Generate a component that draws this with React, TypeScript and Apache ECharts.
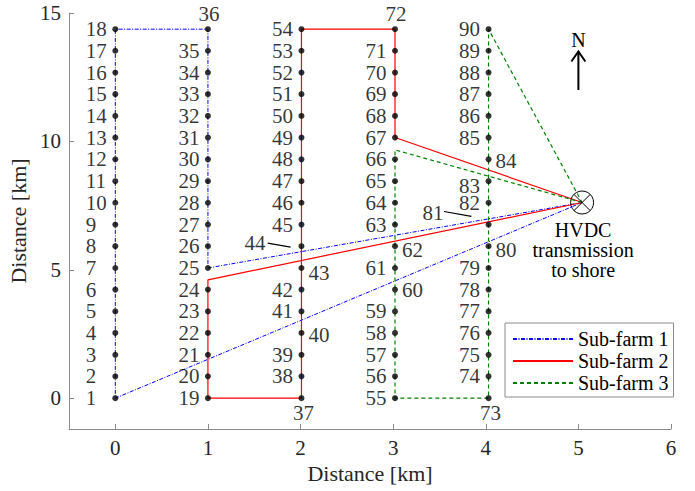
import React, { useEffect, useRef } from "react";
import * as echarts from "echarts";

// ---- data ----
const colX = [0, 1.0, 2.01, 3.02, 4.03];
const rowY = [0, 0.85, 1.69, 2.54, 3.38, 4.23, 5.07, 5.92, 6.76, 7.61, 8.45, 9.3, 10.15, 10.99, 11.84, 12.68, 13.53, 14.37];
const substation = [5.04, 7.62];
const waypoints: Record<string, number[]> = { W2: [1.0, 4.61], W3: [3.02, 9.67] };
const seriesNames = ["Sub-farm 1", "Sub-farm 2", "Sub-farm 3"];
const route1: (number | string)[] = ["S", 25, 36, 18, 1, "S"];
const route2: (number | string)[] = ["S", 67, 72, 54, 37, 19, "W2", "S"];
const route3: (number | string)[] = ["S", "W3", 55, 73, 90, "S"];
const leaderLines = [
  [[1.645, 6.04], [1.893, 5.88]],
  [[3.549, 7.27], [3.845, 7.08]],
];
const xRange = [-0.5, 6];
const yRange = [-1.2, 15];
const xTicks = [0, 1, 2, 3, 4, 5, 6];
const yTicks = [0, 5, 10, 15];
const northArrow = [5.0, 12.0, 13.5, 13.95];
const hvdcText = "HVDC\ntransmission\nto shore";
const axisTitle = "Distance [km]";

const FONT = "'Liberation Serif', 'Times New Roman', Times, serif";
const CSS = "#root svg text, #root svg tspan { font-family: 'Liberation Serif', 'Times New Roman', Times, serif !important; }";

const labelOffsets: Record<number, [number, number, string]> = {
  36: [1, -15, "center"],
  72: [1, -15, "center"],
  37: [2, 15, "center"],
  73: [2, 15, "center"],
  40: [7, 2, "left"],
  43: [7, 5, "left"],
  60: [7, 0, "left"],
  62: [7, 4, "left"],
  80: [7, 4, "left"],
  84: [7, 2, "left"],
  44: [-57, -3, "left"],
  81: [-66, -12, "left"],
  83: [-29.5, 5, "left"],
};

const cableStyles = [
  { color: "#0000ff", width: 1, dash: [4, 1.5, 1, 1.5] as any },
  { color: "#ff0000", width: 1.2, dash: "solid" as any },
  { color: "#008000", width: 1.2, dash: [4, 3] as any },
];

function turbineId(c: number, r: number) {
  return c * rowY.length + r + 1;
}

function nodePos(n: number | string): number[] {
  if (n === "S") return substation;
  if (typeof n === "string") return waypoints[n];
  const c = Math.floor((n - 1) / rowY.length);
  const r = (n - 1) % rowY.length;
  return [colX[c], rowY[r]];
}

function labelFor(id: number) {
  const o = labelOffsets[id] || [-29.5, 0, "left"];
  return {
    show: true,
    position: "inside",
    align: o[2],
    verticalAlign: "middle",
    offset: [o[0], o[1]],
    color: "#000",
    textBorderWidth: 0,
    fontFamily: FONT,
    fontSize: 21,
    formatter: String(id),
  };
}

export default function App() {
  const ref = useRef<HTMLDivElement>(null);
  useEffect(() => {
    if (!ref.current) return;
    const chart = echarts.init(ref.current, undefined, { renderer: "svg" });

    const turbines: any[] = [];
    colX.forEach((x, c) =>
      rowY.forEach((y, r) => {
        const id = turbineId(c, r);
        turbines.push({ value: [x, y], label: labelFor(id) });
      })
    );

    const routes = [route1, route2, route3];

    const cableSeries = routes.map((rt, i) => ({
      type: "line",
      name: seriesNames[i],
      data: rt.map(nodePos),
      symbol: "none",
      showSymbol: false,
      silent: true,
      z: 2,
      lineStyle: { color: cableStyles[i].color, width: cableStyles[i].width, type: cableStyles[i].dash },
      itemStyle: { color: cableStyles[i].color },
    }));

    const leaderSeries = leaderLines.map((seg) => ({
      type: "line",
      data: seg,
      symbol: "none",
      silent: true,
      z: 2,
      lineStyle: { color: "#000", width: 1.2 },
    }));

    const axisCommon = {
      type: "value",
      nameLocation: "middle",
      nameTextStyle: { fontFamily: FONT, fontSize: 22, color: "#262626" },
      axisLine: { show: true, onZero: false, lineStyle: { color: "#8a8a8a", width: 1 } },
      splitLine: { show: false },
    };

    chart.setOption({
      animation: false,
      backgroundColor: "#fff",
      textStyle: { fontFamily: FONT },
      grid: { left: 69, right: 24, top: 13, bottom: 62, containLabel: false, outerBoundsMode: "none" },
      legend: {
        data: seriesNames,
        orient: "vertical",
        left: 505,
        top: 323,
        padding: [5, 5, 3, 7],
        itemWidth: 60,
        itemHeight: 2,
        itemGap: 0,
        itemStyle: { opacity: 0 },
        borderColor: "#8a8a8a",
        borderWidth: 1,
        borderRadius: 0,
        backgroundColor: "#fff",
        textStyle: { fontFamily: FONT, fontSize: 20, color: "#000", lineHeight: 22 },
      },
      xAxis: {
        ...axisCommon,
        min: xRange[0],
        max: xRange[1],
        name: axisTitle,
        nameGap: 30,
        axisTick: { show: true, inside: true, length: 5, customValues: xTicks, lineStyle: { color: "#8a8a8a" } },
        axisLabel: { customValues: xTicks, margin: 8, fontFamily: FONT, fontSize: 21, color: "#262626" },
      },
      yAxis: {
        ...axisCommon,
        min: yRange[0],
        max: yRange[1],
        name: axisTitle,
        nameGap: 30,
        axisTick: { show: true, inside: true, length: 5, customValues: yTicks, lineStyle: { color: "#8a8a8a" } },
        axisLabel: { customValues: yTicks, margin: 8, fontFamily: FONT, fontSize: 21, color: "#262626" },
      },
      series: [
        ...cableSeries,
        ...leaderSeries,
        {
          type: "scatter",
          data: turbines,
          symbol: "circle",
          symbolSize: 6,
          itemStyle: { color: "#000" },
          silent: true,
          z: 4,
        },
        {
          type: "custom",
          data: [substation],
          silent: true,
          clip: false,
          z: 5,
          renderItem: (_p: any, api: any) => {
            const c = api.coord([api.value(0), api.value(1)]);
            const r = 11.5;
            const d = r * Math.SQRT1_2;
            return {
              type: "group",
              children: [
                { type: "circle", shape: { cx: c[0], cy: c[1], r }, style: { fill: "none", stroke: "#000", lineWidth: 1 } },
                { type: "line", shape: { x1: c[0] - d, y1: c[1] - d, x2: c[0] + d, y2: c[1] + d }, style: { stroke: "#000", lineWidth: 1 } },
                { type: "line", shape: { x1: c[0] - d, y1: c[1] + d, x2: c[0] + d, y2: c[1] - d }, style: { stroke: "#000", lineWidth: 1 } },
                {
                  type: "text",
                  x: c[0] + 1,
                  y: c[1] + 17.5,
                  style: {
                    text: hvdcText,
                    fill: "#000",
                    fontFamily: FONT,
                    fontSize: 20,
                    lineHeight: 20,
                    align: "center",
                    textAlign: "center",
                    verticalAlign: "top",
                    textVerticalAlign: "top",
                  },
                },
              ],
            };
          },
        },
        {
          type: "custom",
          data: [northArrow],
          silent: true,
          clip: false,
          z: 5,
          renderItem: (_p: any, api: any) => {
            const base = api.coord([api.value(0), api.value(1)]);
            const tip = api.coord([api.value(0), api.value(2)]);
            const lt = api.coord([api.value(0), api.value(3)]);
            return {
              type: "group",
              children: [
                { type: "line", shape: { x1: base[0], y1: base[1], x2: tip[0], y2: tip[1] }, style: { stroke: "#000", lineWidth: 2 } },
                {
                  type: "polyline",
                  shape: { points: [[tip[0] - 7, tip[1] + 10], [tip[0], tip[1]], [tip[0] + 7, tip[1] + 10]] },
                  style: { stroke: "#000", lineWidth: 2, fill: "none" },
                },
                {
                  type: "text",
                  x: lt[0],
                  y: lt[1] - 10,
                  style: {
                    text: "N",
                    fill: "#000",
                    fontFamily: FONT,
                    fontSize: 20,
                    lineHeight: 20,
                    align: "center",
                    textAlign: "center",
                    verticalAlign: "top",
                    textVerticalAlign: "top",
                  },
                },
              ],
            };
          },
        },
      ],
    });
    return () => chart.dispose();
  }, []);
  return (
    <>
      <style>{CSS}</style>
      <div ref={ref} style={{ position: "absolute", left: 0, top: 0, width: 695, height: 491 }} />
    </>
  );
}
